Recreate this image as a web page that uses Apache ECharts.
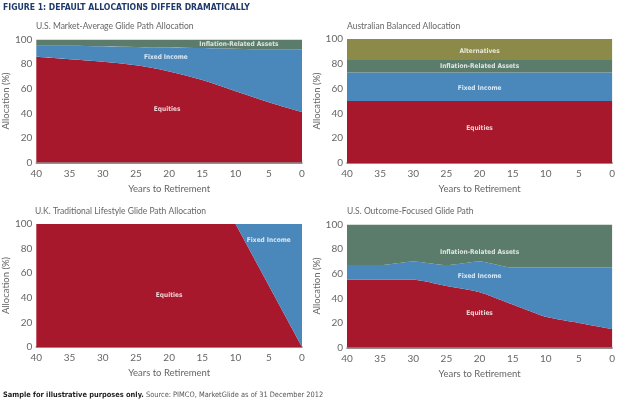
<!DOCTYPE html>
<html>
<head>
<meta charset="utf-8">
<script src="https://cdn.jsdelivr.net/npm/echarts@6/dist/echarts.min.js"></script>
<style>
  html, body { margin: 0; padding: 0; background: #fff; }
  #chart { width: 618px; height: 408px; }
</style>
</head>
<body>
<div id="chart"></div>
<script>
// years to retirement (x axis runs 40 -> 0)
const years = ['40', '35', '30', '25', '20', '15', '10', '5', '0']
const yTicks = [0, 20, 40, 60, 80, 100]

// U.S. Market-Average Glide Path Allocation
const usEquities = [86, 84, 82, 79, 74, 67, 58, 49, 41]
const usFixed = [9, 11, 12.5, 15, 19.5, 26, 34.5, 43, 51]
const usInflation = [5, 5, 5.5, 6, 6.5, 7, 7.5, 8, 8]

// Australian Balanced Allocation
const auEquities = [50, 50, 50, 50, 50, 50, 50, 50, 50]
const auFixed = [23, 23, 23, 23, 23, 23, 23, 23, 23]
const auInflation = [10, 10, 10, 10, 10, 10, 10, 10, 10]
const auAlternatives = [17, 17, 17, 17, 17, 17, 17, 17, 17]

// U.K. Traditional Lifestyle Glide Path Allocation
const ukEquities = [100, 100, 100, 100, 100, 100, 100, 50, 0]
const ukFixed = [0, 0, 0, 0, 0, 0, 0, 50, 100]

// U.S. Outcome-Focused Glide Path
const ofEquities = [55, 55, 55, 50, 45, 35, 25, 20, 15]
const ofFixed = [12, 12, 15, 17, 25, 30, 40, 45, 50]
const ofInflation = [33, 33, 30, 33, 30, 35, 35, 35, 35]

const panelTitles = [
  'U.S. Market-Average Glide Path Allocation',
  'Australian Balanced Allocation',
  'U.K. Traditional Lifestyle Glide Path Allocation',
  'U.S. Outcome-Focused Glide Path'
]

// in-chart labels: [years, allocation, text]
const usLabels = [[9.5, 96.3, 'Inflation-Related Assets'], [20.5, 85.5, 'Fixed Income'], [20.3, 43, 'Equities']]
const auLabels = [[20, 89.8, 'Alternatives'], [20, 78, 'Inflation-Related Assets'], [20, 60, 'Fixed Income'], [20, 28, 'Equities']]
const ukLabels = [[20, 42.4, 'Equities'], [5, 86.7, 'Fixed Income']]
const ofLabels = [[20, 77.7, 'Inflation-Related Assets'], [20, 57.7, 'Fixed Income'], [20, 28, 'Equities']]

const colors = {
  equities: '#a8182c',
  fixed: '#4a87bb',
  inflation: '#5b7b6b',
  alternatives: '#8b8a48'
}

const font = 'Lato, "Open Sans", sans-serif'
const narrow = '"Liberation Sans Narrow", "DejaVu Sans Condensed", sans-serif'
const grids = [
  { left: 35, top: 39.5, width: 267, height: 123 },
  { left: 347, top: 39, width: 267, height: 124 },
  { left: 35.5, top: 224, width: 266.5, height: 123 },
  { left: 347, top: 224.5, width: 267, height: 123 }
]

const panels = [
  { smooth: 0.35, labels: usLabels, layers: [['equities', usEquities], ['fixed', usFixed], ['inflation', usInflation]] },
  { smooth: false, labels: auLabels, layers: [['equities', auEquities], ['fixed', auFixed], ['inflation', auInflation], ['alternatives', auAlternatives]] },
  { smooth: false, labels: ukLabels, layers: [['equities', ukEquities], ['fixed', ukFixed]] },
  { smooth: 0.2, labels: ofLabels, layers: [['equities', ofEquities], ['fixed', ofFixed], ['inflation', ofInflation]] }
]

const xAxes = [], yAxes = [], series = []
grids.forEach((g, i) => {
  xAxes.push({
    gridIndex: i, type: 'category', data: years, boundaryGap: false,
    name: 'Years to Retirement', nameLocation: 'middle', nameGap: 21,
    nameTextStyle: { color: '#666', fontSize: 9.5, fontFamily: font },
    axisLine: { show: true, lineStyle: { color: '#6b6b6b', width: 1.5 } },
    axisTick: { show: false }, splitLine: { show: false },
    axisLabel: { color: '#666', fontSize: 10, fontFamily: font, margin: 6, interval: 0 }
  })
  yAxes.push({
    gridIndex: i, type: 'value', min: yTicks[0], max: yTicks[yTicks.length - 1], interval: 20,
    name: 'Allocation (%)', nameLocation: 'middle', nameGap: 25,
    nameTextStyle: { color: '#666', fontSize: 9.5, fontFamily: font },
    axisLine: { show: false }, axisTick: { show: false }, splitLine: { show: false },
    axisLabel: { color: '#666', fontSize: 10, fontFamily: font, margin: 4 }
  })
  const p = panels[i]
  p.layers.forEach(([key, vals]) => {
    series.push({
      type: 'line', xAxisIndex: i, yAxisIndex: i, stack: 'p' + i,
      smooth: p.smooth, showSymbol: false, symbol: 'none',
      lineStyle: { width: 0 },
      areaStyle: { color: colors[key], opacity: 1 },
      data: vals
    })
  })
})

// hidden numeric x axes for placing the in-chart labels
grids.forEach((g, i) => {
  xAxes.push({ gridIndex: i, type: 'value', min: 0, max: 40, inverse: true, show: false })
  series.push({
    type: 'scatter', xAxisIndex: 4 + i, yAxisIndex: i, symbolSize: 0, z: 5,
    data: panels[i].labels.map(l => ({ value: [l[0], l[1]], name: l[2] })),
    label: {
      show: true, position: 'inside', formatter: '{b}',
      color: '#fff', fontSize: 6.5, fontWeight: 'bold', fontFamily: narrow
    },
    silent: true
  })
})

const titles = [{
  text: 'FIGURE 1: DEFAULT ALLOCATIONS DIFFER DRAMATICALLY', left: 3, top: 3, padding: 0,
  textStyle: { color: '#1f3a6b', fontSize: 8.6, fontWeight: 'bold', fontFamily: narrow }
}]
const titlePos = [[36, 21.5], [347, 21.5], [35, 207], [347, 207]]
panelTitles.forEach((t, i) => {
  titles.push({
    text: t, left: titlePos[i][0], top: titlePos[i][1], padding: 0,
    textStyle: { color: '#666', fontSize: 8.5, fontWeight: 'normal', fontFamily: font }
  })
})
titles.push({
  text: '{b|Sample for illustrative purposes only.} Source: PIMCO, MarketGlide as of 31 December 2012',
  left: 3, top: 392, padding: 0,
  textStyle: {
    color: '#555', fontSize: 7.4, fontWeight: 'normal', fontFamily: narrow,
    rich: { b: { color: '#222', fontSize: 7.4, fontWeight: 'bold', fontFamily: narrow } }
  }
})

const chart = echarts.init(document.getElementById('chart'))
chart.setOption({
  animation: false,
  backgroundColor: '#fff',
  title: titles,
  grid: grids,
  xAxis: xAxes,
  yAxis: yAxes,
  series: series
})
</script>
</body>
</html>
